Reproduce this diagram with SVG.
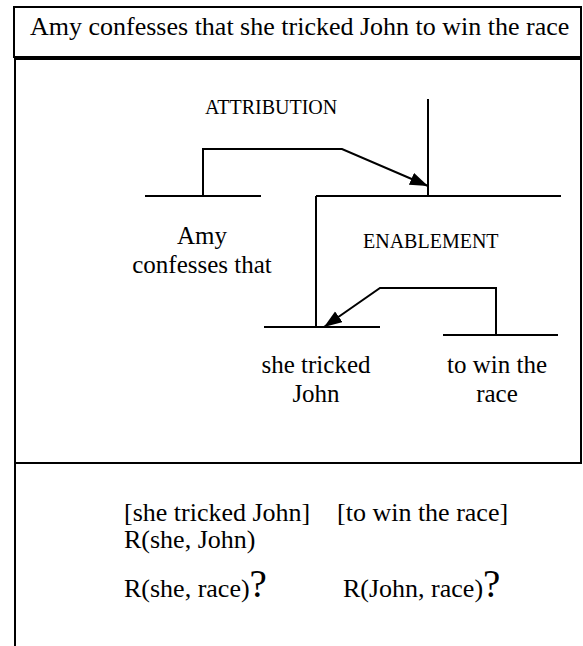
<svg xmlns="http://www.w3.org/2000/svg" width="583" height="646" viewBox="0 0 583 646">
  <style>
    .frame { fill: none; stroke: #000; stroke-width: 2; }
    .span { fill: none; stroke: #000; stroke-width: 2; }
    .link { fill: none; stroke: #000; stroke-width: 2; }
    text { font-family: 'Liberation Serif', 'DejaVu Serif', serif; fill: #000; }
    .title { font-size: 26px; }
    .seg { font-size: 25px; text-anchor: middle; }
    .rel { font-size: 20px; }
    .note { font-size: 26px; }
    .q { font-size: 39px; }
  </style>
  <defs>
    <marker id="arrow" markerUnits="userSpaceOnUse" markerWidth="19" markerHeight="14" refX="18" refY="6.5" orient="auto">
      <path d="M0,0 L18,6.5 L0,13 z" fill="#000"/>
    </marker>
  </defs>

  <rect width="583" height="646" fill="#fff"/>

  <!-- panel frames -->
  <g id="frames">
    <rect class="frame" x="14" y="7" width="567" height="50"/>
    <polyline class="frame" points="15,646 15,59 581,59 581,463 15,463"/>
  </g>

  <g id="title">
    <text class="title" x="30" y="35" font-family="Liberation Serif, serif">Amy confesses that she tricked John to win the race</text>
  </g>

  <!-- relation labels -->
  <g id="rel-attribution">
    <text class="rel" x="205" y="114" font-family="Liberation Serif, serif">ATTRIBUTION</text>
  </g>
  <g id="rel-enablement">
    <text class="rel" x="363" y="248" font-family="Liberation Serif, serif">ENABLEMENT</text>
  </g>

  <!-- discourse segments -->
  <g id="seg-amy">
    <line class="span" x1="145" y1="196" x2="261" y2="196"/>
    <text class="seg" x="202" y="244" font-family="Liberation Serif, serif">Amy</text>
    <text class="seg" x="202" y="273" font-family="Liberation Serif, serif">confesses that</text>
  </g>
  <g id="span-enablement">
    <line class="span" x1="316" y1="196" x2="561" y2="196"/>
  </g>
  <g id="seg-she">
    <line class="span" x1="264" y1="327" x2="380" y2="327"/>
    <text class="seg" x="316" y="373" font-family="Liberation Serif, serif">she tricked</text>
    <text class="seg" x="316" y="402" font-family="Liberation Serif, serif">John</text>
  </g>
  <g id="seg-win">
    <line class="span" x1="443" y1="335" x2="558" y2="335"/>
    <text class="seg" x="497" y="373" font-family="Liberation Serif, serif">to win the</text>
    <text class="seg" x="497" y="402" font-family="Liberation Serif, serif">race</text>
  </g>

  <!-- tree edges -->
  <g id="connectors">
    <line class="link" x1="428" y1="99" x2="428" y2="196"/>
    <line class="link" x1="316" y1="196" x2="316" y2="328"/>
    <path class="link" d="M203,196 V149 H342 L428,186" marker-end="url(#arrow)"/>
    <path class="link" d="M496,335 V288 H380 L324,327" marker-end="url(#arrow)"/>
  </g>

  <!-- argument notes -->
  <g id="notes" font-family="Liberation Serif, serif">
    <text class="note" x="124" y="521">[she tricked John]</text>
    <text class="note" x="337" y="521">[to win the race]</text>
    <text class="note" x="124" y="548">R(she, John)</text>
    <text class="note" x="124" y="597">R(she, race)<tspan class="q">?</tspan></text>
    <text class="note" x="343" y="597">R(John, race)<tspan class="q">?</tspan></text>
  </g>
</svg>
